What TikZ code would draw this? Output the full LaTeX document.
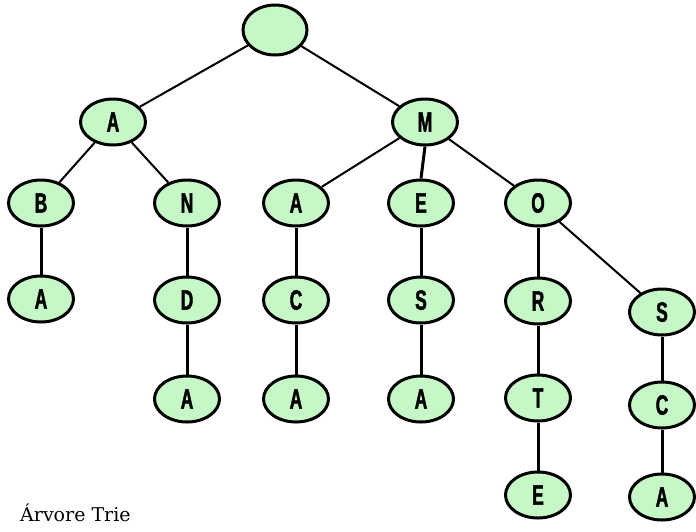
\documentclass[tikz,border=0pt]{standalone}
\usepackage{fontspec}
\usetikzlibrary{shapes.geometric}
\newfontfamily\nodefont{Liberation Sans}[FakeStretch=0.62,BoldFeatures={FakeBold=1.5}]
\newfontfamily\capfont{DejaVu Serif}
\definecolor{nodegreen}{RGB}{198,247,198}
\newcommand{\nodefontsel}{\nodefont\bfseries\fontsize{28}{28}\selectfont}
\tikzset{
  trienode/.style={ellipse, draw=black, fill=nodegreen, line width=3pt,
    minimum width=65pt, minimum height=46pt, inner sep=0pt,
    font=\nodefontsel},
  rootnode/.style={trienode, minimum width=64pt, minimum height=50pt},
  diag/.style={line width=2pt},
  vert/.style={line width=3pt}
}
\begin{document}
\begin{tikzpicture}[x=1pt,y=-1pt]
\useasboundingbox (0,0) rectangle (696,531);
% level 0
\node[rootnode] (root) at (275,30) {};
% level 1
\node[trienode] (a1) at (113,122) {A};
\node[trienode] (m1) at (425,122) {M};
% level 2
\node[trienode] (b2) at (41,203) {B};
\node[trienode] (n2) at (187,203) {N};
\node[trienode] (a2) at (296,203) {A};
\node[trienode] (e2) at (421,203) {E};
\node[trienode] (o2) at (538,203) {O};
% level 3
\node[trienode] (a3) at (41,299) {A};
\node[trienode] (d3) at (187,300) {D};
\node[trienode] (c3) at (296,300) {C};
\node[trienode] (s3) at (421,300) {S};
\node[trienode] (r3) at (538,301) {R};
\node[trienode] (s3b) at (662,312) {S};
% level 4
\node[trienode] (a4) at (187,399) {A};
\node[trienode] (a4b) at (296,399) {A};
\node[trienode] (a4c) at (421,399) {A};
\node[trienode] (t4) at (538,398) {T};
\node[trienode] (c4) at (662,405) {C};
% level 5
\node[trienode] (e5) at (538,495) {E};
\node[trienode] (a5) at (662,497) {A};
% caption
\node[anchor=base west, inner sep=0pt, font=\capfont\fontsize{19}{19}\selectfont] (cap) at (20,521) {Árvore Trie};
% edges
\draw[diag] (root) -- (a1);
\draw[diag] (root) -- (m1);
\draw[diag] (a1) -- (b2);
\draw[diag] (a1) -- (n2);
\draw[diag] (m1) -- (a2);
\draw[vert] (m1.south) -- (e2.north);
\draw[diag] (m1) -- (o2);
\draw[diag] (o2) -- (s3b);
\draw[vert] (b2) -- (a3);
\draw[vert] (n2) -- (d3);
\draw[vert] (d3) -- (a4);
\draw[vert] (a2) -- (c3);
\draw[vert] (c3) -- (a4b);
\draw[vert] (e2) -- (s3);
\draw[vert] (s3) -- (a4c);
\draw[vert] (o2) -- (r3);
\draw[vert] (r3) -- (t4);
\draw[vert] (t4) -- (e5);
\draw[vert] (s3b) -- (c4);
\draw[vert] (c4) -- (a5);
\end{tikzpicture}
\end{document}
